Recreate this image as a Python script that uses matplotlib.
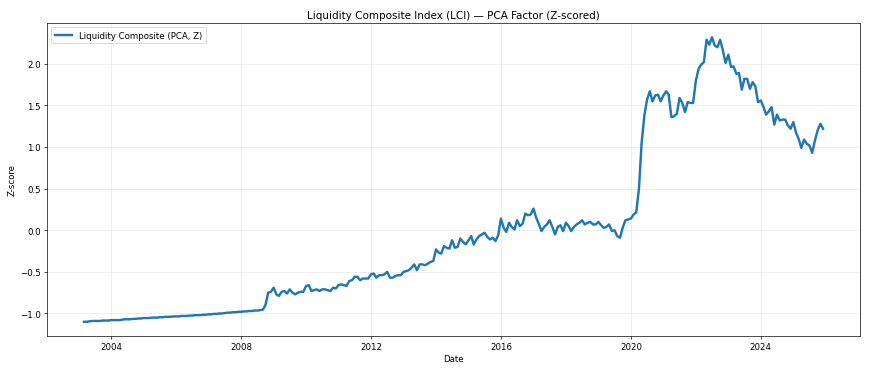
import matplotlib
matplotlib.use("Agg")
import matplotlib.pyplot as plt
import matplotlib.dates as mdates
import pandas as pd

start_month = "2003-03-01"

v2003 = [-1.10, -1.10, -1.095, -1.09, -1.09, -1.09, -1.09, -1.085, -1.085, -1.085]
v2004 = [-1.08, -1.08, -1.08, -1.08, -1.075, -1.07, -1.07, -1.07, -1.065, -1.065, -1.06, -1.06]
v2005 = [-1.055, -1.055, -1.055, -1.05, -1.05, -1.05, -1.045, -1.045, -1.04, -1.04, -1.04, -1.035]
v2006 = [-1.035, -1.035, -1.03, -1.03, -1.03, -1.025, -1.025, -1.02, -1.02, -1.02, -1.015, -1.015]
v2007 = [-1.01, -1.01, -1.005, -1.005, -1.00, -1.00, -0.995, -0.99, -0.99, -0.985, -0.985, -0.98]
v2008 = [-0.98, -0.975, -0.975, -0.97, -0.97, -0.965, -0.965, -0.96, -0.955, -0.90, -0.75, -0.74]
v2009 = [-0.69, -0.77, -0.79, -0.74, -0.73, -0.76, -0.71, -0.75, -0.77, -0.75, -0.74, -0.74]
v2010 = [-0.67, -0.66, -0.73, -0.72, -0.71, -0.73, -0.71, -0.71, -0.72, -0.73, -0.69, -0.70]
v2011 = [-0.66, -0.65, -0.66, -0.67, -0.61, -0.60, -0.56, -0.56, -0.60, -0.58, -0.58, -0.58]
v2012 = [-0.53, -0.52, -0.57, -0.54, -0.54, -0.53, -0.50, -0.57, -0.57, -0.55, -0.54, -0.54]
v2013 = [-0.50, -0.49, -0.48, -0.45, -0.41, -0.48, -0.41, -0.41, -0.42, -0.40, -0.38, -0.37]
v2014 = [-0.23, -0.27, -0.28, -0.19, -0.21, -0.22, -0.12, -0.21, -0.20, -0.10, -0.14, -0.17]
v2015 = [-0.12, -0.07, -0.17, -0.11, -0.07, -0.05, -0.03, -0.08, -0.11, -0.09, -0.13, -0.06]
v2016 = [0.14, 0.03, -0.02, 0.09, 0.04, 0.01, 0.12, 0.05, 0.08, 0.20, 0.18, 0.19]
v2017 = [0.26, 0.15, 0.08, -0.01, 0.04, 0.07, 0.12, 0.04, -0.05, 0.04, 0.06, -0.01]
v2018 = [0.09, 0.05, -0.01, 0.04, 0.07, 0.09, 0.12, 0.07, 0.09, 0.10, 0.07, 0.07]
v2019 = [0.10, 0.06, 0.03, 0.04, 0.07, -0.01, 0.00, -0.07, -0.09, 0.03, 0.12, 0.13]
v2020 = [0.14, 0.19, 0.21, 0.50, 1.05, 1.38, 1.57, 1.67, 1.55, 1.62, 1.63, 1.55]
v2021 = [1.62, 1.67, 1.63, 1.36, 1.37, 1.40, 1.59, 1.53, 1.42, 1.54, 1.53, 1.53]
v2022 = [1.80, 1.94, 1.99, 2.02, 2.29, 2.23, 2.32, 2.22, 2.20, 2.29, 2.16, 2.01]
v2023 = [2.11, 1.96, 1.97, 1.88, 1.89, 1.69, 1.82, 1.82, 1.70, 1.78, 1.73, 1.54]
v2024 = [1.56, 1.48, 1.39, 1.43, 1.48, 1.27, 1.39, 1.32, 1.33, 1.33, 1.26, 1.22]
v2025 = [1.30, 1.17, 1.10, 0.99, 1.09, 1.04, 1.02, 0.93, 1.08, 1.20, 1.28, 1.22]

values = (v2003 + v2004 + v2005 + v2006 + v2007 + v2008 + v2009 + v2010 + v2011
          + v2012 + v2013 + v2014 + v2015 + v2016 + v2017 + v2018 + v2019 + v2020
          + v2021 + v2022 + v2023 + v2024 + v2025)
dates = pd.date_range(start_month, periods=len(values), freq="MS")

title = "Liquidity Composite Index (LCI) \u2014 PCA Factor (Z-scored)"
series_label = "Liquidity Composite (PCA, Z)"

fig = plt.figure(figsize=(14, 6), dpi=870 / 14)
ax = fig.add_axes([0.054, 0.0965, 0.9345, 0.8395])
ax.plot(dates, values, color="#1f77b4", lw=2.8, label=series_label)
ax.set_title(title, fontsize=12)
ax.set_xlabel("Date")
ax.set_ylabel("Z-score")
ax.grid(True, alpha=0.3)
ax.legend(loc="upper left")
ax.xaxis.set_major_locator(mdates.YearLocator(4))
ax.xaxis.set_major_formatter(mdates.DateFormatter("%Y"))
fig.savefig("out.png", dpi=870 / 14)
